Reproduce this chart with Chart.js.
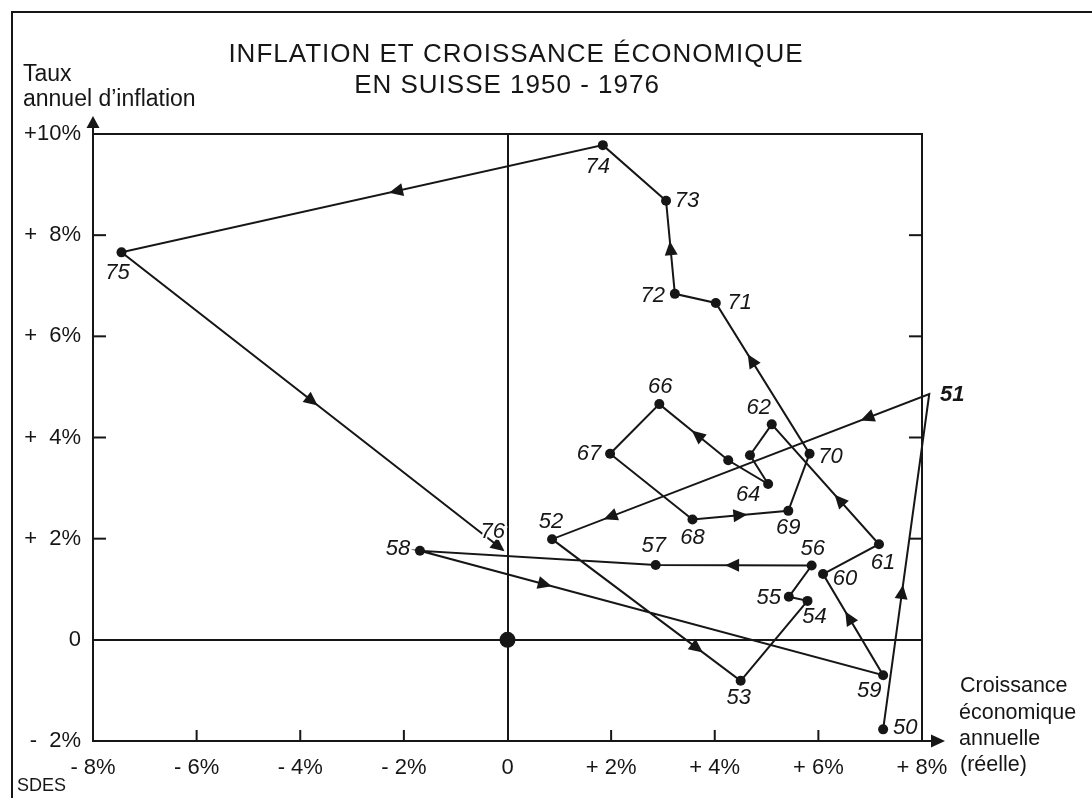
<!DOCTYPE html>
<html><head><meta charset="utf-8">
<script src="https://cdn.jsdelivr.net/npm/chart.js@4.4.1/dist/chart.umd.min.js"></script>
<style>html,body{margin:0;padding:0;background:#fff;}canvas{display:block;}</style>
</head><body>
<canvas id="c" width="1092" height="798"></canvas>
<script>
// ---- data ----
const years      = ['1950','1951','1952','1953','1954','1955','1956','1957','1958','1959','1960','1961','1962','1963','1964','1965','1966','1967','1968','1969','1970','1971','1972','1973','1974','1975','1976'];
const growth     = [7.25, 8.14, 0.86, 4.50, 5.79, 5.43, 5.87, 2.86, -1.69, 7.25, 6.09, 7.17, 5.10, 4.68, 5.03, 4.26, 2.93, 1.98, 3.57, 5.42, 5.83, 4.02, 3.23, 3.06, 1.84, -7.45, -0.09];
const inflation  = [-1.77, 4.86, 1.99, -0.81, 0.77, 0.85, 1.47, 1.48, 1.76, -0.70, 1.30, 1.89, 4.26, 3.65, 3.08, 3.55, 4.66, 3.68, 2.38, 2.55, 3.68, 6.66, 6.84, 8.68, 9.78, 7.66, 1.78];
const pointLabels = ['50','51','52','53','54','55','56','57','58','59','60','61','62','','64','','66','67','68','69','70','71','72','73','74','75','76'];
const originPoint = [0, 0];
const xTickValues = [-8, -6, -4, -2, 0, 2, 4, 6, 8];
const xTickLabels = ['- 8%', '- 6%', '- 4%', '- 2%', '0', '+ 2%', '+ 4%', '+ 6%', '+ 8%'];
const yTickValues = [-2, 0, 2, 4, 6, 8, 10];
const yTickLabels = ['-  2%', '0', '+  2%', '+  4%', '+  6%', '+  8%', '+10%'];
const titleLines = ['INFLATION ET CROISSANCE ÉCONOMIQUE', 'EN SUISSE 1950 - 1976'];
const yAxisTitle = ['Taux', 'annuel d\u2019inflation'];
const xAxisTitle = ['Croissance', 'économique', 'annuelle', '(réelle)'];
const sourceText = 'SDES';
// direction arrows: [segment start index, position along segment]
const arrowMarks = [[0,0.41],[1,0.165],[1,0.846],[2,0.77],[6,0.51],[8,0.27],[9,0.57],[11,0.37],[15,0.45],[18,0.5],[20,0.62],[22,0.49],[24,0.43],[25,0.5],[25,0.99]];

// ---- style ----
const INK = '#161616';
const FONT = "'Liberation Sans', Arial, sans-serif";
const labelOffsets = [[22,-1],[23,1],[-1,-17],[-2,17],[7,16],[-20,1],[1,-17],[-2,-19],[-22,-2],[-14,16],[22,5],[4,19],[-13,-16],[0,0],[-20,11],[0,0],[1,-17],[-21,0],[0,18],[0,17],[21,3],[24,0],[-22,2],[21,0],[-5,22],[-4,21],[-10,-18]];

const pathData = growth.map((g, i) => ({x: g, y: inflation[i]}));
const radii = years.map((y, i) => i === years.length - 1 ? 0 : 5);

function tri(ctx, cx, cy, ang, len, w) {
  const dx = Math.cos(ang), dy = Math.sin(ang);
  const tx = cx + dx * len / 2, ty = cy + dy * len / 2;
  const bx = cx - dx * len / 2, by = cy - dy * len / 2;
  ctx.beginPath();
  ctx.moveTo(tx, ty);
  ctx.lineTo(bx - dy * w / 2, by + dx * w / 2);
  ctx.lineTo(bx + dy * w / 2, by - dx * w / 2);
  ctx.closePath();
  ctx.fill();
}

const deco = {
  id: 'deco',
  beforeDraw(chart) {
    const ctx = chart.ctx;
    ctx.save(); ctx.fillStyle = '#fff'; ctx.fillRect(0, 0, chart.width, chart.height); ctx.restore();
  },
  afterDraw(chart) {
    const {ctx, chartArea: a, scales: {x, y}} = chart;
    ctx.save();
    ctx.strokeStyle = INK; ctx.fillStyle = INK; ctx.lineWidth = 2; ctx.lineCap = 'butt';
    // page frame
    ctx.beginPath(); ctx.moveTo(12, 798); ctx.lineTo(12, 12); ctx.lineTo(1092, 12); ctx.stroke();
    // top and right side of the plot box
    ctx.beginPath(); ctx.moveTo(a.left, a.top); ctx.lineTo(a.right, a.top); ctx.lineTo(a.right, a.bottom); ctx.stroke();
    // axis extensions with arrows
    ctx.beginPath(); ctx.moveTo(a.left, a.top); ctx.lineTo(a.left, a.top - 8); ctx.stroke();
    tri(ctx, a.left, a.top - 12, -Math.PI / 2, 12, 13);
    ctx.beginPath(); ctx.moveTo(a.right, a.bottom); ctx.lineTo(a.right + 10, a.bottom); ctx.stroke();
    tri(ctx, a.right + 16, a.bottom, 0, 14, 13);
    // inward ticks
    yTickValues.forEach(v => {
      if (v <= y.min || v >= y.max || v === 0) return;
      const py = y.getPixelForValue(v);
      ctx.beginPath(); ctx.moveTo(a.left, py); ctx.lineTo(a.left + 13, py); ctx.stroke();
      ctx.beginPath(); ctx.moveTo(a.right, py); ctx.lineTo(a.right - 13, py); ctx.stroke();
    });
    xTickValues.forEach(v => {
      if (v <= x.min || v >= x.max || v === 0) return;
      const px = x.getPixelForValue(v);
      ctx.beginPath(); ctx.moveTo(px, a.bottom); ctx.lineTo(px, a.bottom - 11); ctx.stroke();
    });
    // direction arrows along the path
    arrowMarks.forEach(([i, f]) => {
      const x1 = x.getPixelForValue(growth[i]), y1 = y.getPixelForValue(inflation[i]);
      const x2 = x.getPixelForValue(growth[i + 1]), y2 = y.getPixelForValue(inflation[i + 1]);
      tri(ctx, x1 + (x2 - x1) * f, y1 + (y2 - y1) * f, Math.atan2(y2 - y1, x2 - x1), 14, 13);
    });
    // year labels
    ctx.textAlign = 'center'; ctx.textBaseline = 'middle';
    pointLabels.forEach((t, i) => {
      if (!t) return;
      const px = x.getPixelForValue(growth[i]) + labelOffsets[i][0];
      const py = y.getPixelForValue(inflation[i]) + labelOffsets[i][1];
      ctx.font = (t === '51' ? 'italic bold 22px ' : 'italic 22px ') + FONT;
      ctx.lineWidth = 4; ctx.strokeStyle = '#fff';
      ctx.strokeText(t, px, py);
      ctx.fillText(t, px, py);
    });
    // titles
    ctx.font = '26px ' + FONT;
    ctx.letterSpacing = '1px';
    ctx.fillText(titleLines[0], 516, 55);
    ctx.fillText(titleLines[1], 507, 86);
    ctx.letterSpacing = '0px';
    ctx.textAlign = 'left';
    ctx.font = '23px ' + FONT;
    ctx.fillText(yAxisTitle[0], 23, 75);
    ctx.fillText(yAxisTitle[1], 23, 100);
    ctx.font = '21.5px ' + FONT;
    const xt = [[960, 686], [959, 713], [959, 739], [960, 765]];
    xAxisTitle.forEach((t, i) => ctx.fillText(t, xt[i][0], xt[i][1]));
    ctx.font = '18px ' + FONT;
    ctx.fillText(sourceText, 17, 786);
    ctx.restore();
  }
};

const zeroGrid = c => (c.tick && c.tick.value === 0) ? INK : 'rgba(0,0,0,0)';

new Chart(document.getElementById('c'), {
  type: 'scatter',
  data: {
    datasets: [
      {
        data: pathData, showLine: true, borderColor: INK, borderWidth: 2, tension: 0,
        pointRadius: radii, pointBackgroundColor: INK, pointBorderWidth: 0, clip: false
      },
      {
        data: [{x: originPoint[0], y: originPoint[1]}], showLine: false,
        pointRadius: 8, pointBackgroundColor: INK, pointBorderWidth: 0, clip: false
      }
    ]
  },
  options: {
    responsive: false, animation: false, devicePixelRatio: 1,
    layout: {padding: {top: 134, left: 0, right: 170, bottom: 0}},
    plugins: {legend: {display: false}, tooltip: {enabled: false}, title: {display: false}},
    scales: {
      x: {
        type: 'linear', min: -8, max: 8,
        afterFit: s => { s.height = 57; },
        afterBuildTicks: s => { s.ticks = xTickValues.map(v => ({value: v})); },
        ticks: {
          callback: v => xTickLabels[xTickValues.indexOf(v)],
          color: INK, font: {family: FONT, size: 22}, padding: 14, maxRotation: 0, autoSkip: false
        },
        grid: {color: zeroGrid, lineWidth: 2, drawTicks: false},
        border: {display: true, color: INK, width: 2}
      },
      y: {
        type: 'linear', min: -2, max: 10,
        afterFit: s => { s.width = 93; },
        afterBuildTicks: s => { s.ticks = yTickValues.map(v => ({value: v})); },
        ticks: {
          callback: v => yTickLabels[yTickValues.indexOf(v)],
          color: INK, font: {family: FONT, size: 22}, padding: 12, autoSkip: false
        },
        grid: {color: zeroGrid, lineWidth: 2, drawTicks: false},
        border: {display: true, color: INK, width: 2}
      }
    }
  },
  plugins: [deco]
});
</script>
</body></html>
